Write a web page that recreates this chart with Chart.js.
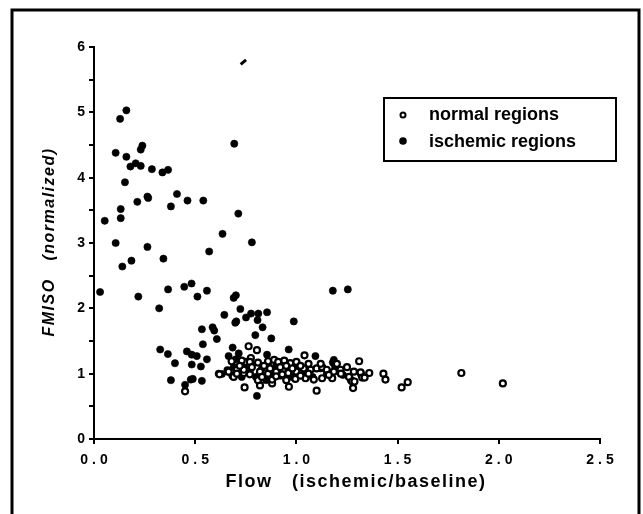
<!DOCTYPE html>
<html><head><meta charset="utf-8">
<script src="https://cdn.jsdelivr.net/npm/chart.js@4.4.0/dist/chart.umd.min.js"></script>
<style>html,body{margin:0;padding:0;background:#fff}#wrap{width:643px;height:514px;position:relative}</style>
</head><body><div id="wrap"><canvas id="c" width="643" height="514"></canvas></div>
<script>
// ---- data ----
const normalX = [0.45,0.62,0.66,0.69,0.706,0.744,0.764,0.805,0.775,0.75,0.74,0.82,0.88,0.963,1.04,1.10,1.28,1.27,1.31,1.32,1.36,1.43,1.44,1.52,1.55,1.815,2.02,
  0.68,0.73,0.77,0.81,0.86,0.89,0.91,0.94,0.97,1.0,
  0.665,0.706,0.74,0.77,0.82,0.86,0.90,0.93,0.96,1.0,
  0.81,0.88,0.95,0.995,
  1.036,1.07,1.10,1.127,1.15,1.185,1.218,1.25,1.284,1.317,1.045,1.086,1.127,1.177,1.26,1.276,1.325,1.337,1.287,
  0.84,0.87,0.92,0.95,0.98,1.02,1.06,1.12,1.20,0.78,0.72,0.83,0.90,1.02,1.06,1.16,1.22];
const normalY = [0.73,0.99,1.05,0.95,1.06,0.79,1.42,1.36,1.24,1.18,1.01,0.82,0.85,0.80,1.28,0.74,0.78,0.90,1.19,0.99,1.01,1.00,0.91,0.79,0.87,1.01,0.85,
  1.19,1.20,1.18,1.17,1.19,1.21,1.18,1.20,1.16,1.18,
  1.03,1.00,1.06,0.99,1.03,1.00,1.03,0.99,1.01,1.03,
  0.90,0.91,0.90,0.92,
  1.08,1.06,1.08,1.10,1.06,1.03,1.06,1.10,1.03,1.02,0.93,0.91,0.93,0.93,0.95,0.88,0.94,0.94,0.88,
  1.12,1.08,1.10,1.12,1.08,1.12,1.15,1.15,1.15,1.10,1.12,0.95,0.96,0.97,1.00,0.98,1.00];

const ischemicX = [0.03,0.053,0.107,0.107,0.129,0.16,0.16,0.132,0.132,0.14,0.153,0.185,0.18,0.206,0.231,0.239,0.231,0.214,0.219,0.264,0.268,0.264,0.286,0.343,0.338,0.366,0.366,0.322,0.38,0.41,
  0.462,0.446,0.482,0.511,0.558,0.54,0.569,0.635,0.713,0.693,0.78,0.69,0.701,0.644,0.723,0.751,0.776,0.812,0.855,0.808,0.698,0.703,0.833,0.797,0.876,0.987,1.18,1.254,
  0.533,0.586,0.594,0.607,0.538,0.327,0.365,0.40,0.38,0.459,0.483,0.508,0.483,0.528,0.558,0.478,0.488,0.533,0.45,0.616,0.632,0.665,0.685,0.715,0.665,0.70,0.855,0.962,1.094,1.185,1.18,0.805,0.683,
  0.72,0.75,0.78,0.80,0.83,0.86,0.88,0.90,0.92,0.94,0.96,0.98,1.0,1.03,1.06,1.08,1.12,1.15,1.19,1.21,1.23,0.85,0.95,0.73,0.77,0.69];
const ischemicY = [2.25,3.34,3.00,4.38,4.90,5.03,4.32,3.52,3.38,2.64,3.93,2.73,4.17,4.22,4.18,4.49,4.43,3.63,2.18,3.71,3.69,2.94,4.13,2.76,4.08,4.12,2.29,2.00,3.56,3.75,
  3.65,2.33,2.38,2.18,2.27,3.65,2.87,3.14,3.45,4.52,3.01,2.16,2.20,1.90,1.99,1.86,1.92,1.92,1.94,1.82,1.78,1.80,1.71,1.59,1.54,1.80,2.27,2.29,
  1.68,1.71,1.66,1.53,1.45,1.37,1.30,1.16,0.90,1.34,1.29,1.27,1.14,1.11,1.22,0.91,0.92,0.89,0.83,1.00,0.995,1.03,1.40,1.31,1.27,1.22,1.29,1.37,1.27,1.21,1.17,0.66,0.97,
  1.05,1.10,1.14,0.95,1.08,1.16,1.00,1.12,0.97,1.18,1.05,0.95,1.10,0.98,1.04,0.95,1.08,1.00,1.12,1.04,0.98,0.90,0.92,0.95,1.02,1.10];

const strayX = [0.738];
const strayY = [5.77];

const legendLabels = ['normal regions', 'ischemic regions'];
const xTitle = 'Flow   (ischemic/baseline)';
const yTitle = 'FMISO   (normalized)';

const toPts = (xs, ys) => xs.map((x, i) => ({x: x, y: ys[i]}));
const FONT = "'Liberation Sans', Arial, Helvetica, sans-serif";

const framePlugin = {
  id: 'frame',
  beforeDraw(chart) {
    const ctx = chart.ctx;
    ctx.save();
    ctx.fillStyle = '#fff';
    ctx.fillRect(0, 0, chart.width, chart.height);
    ctx.strokeStyle = '#000';
    ctx.lineWidth = 3;
    ctx.strokeRect(12, 10, 627, 520);
    ctx.restore();
    const xs = chart.scales.x, ys = chart.scales.y;
    if (!xs._wrapped) {
      const ol = xs.drawLabels;
      xs.drawLabels = function (a) { const c = this.ctx; c.save(); c.letterSpacing = '4px'; c.translate(2, 0); ol.call(this, a); c.restore(); };
      const ot = xs.drawTitle;
      xs.drawTitle = function () { const c = this.ctx; c.save(); c.letterSpacing = '1.5px'; c.translate(9, 0); ot.call(this); c.restore(); };
      const oy = ys.drawTitle;
      ys.drawTitle = function () { const c = this.ctx; c.save(); c.letterSpacing = '1.5px'; c.translate(0, -1); oy.call(this); c.restore(); };
      xs._wrapped = true;
    }
  },
  afterDraw(chart) {
    const ctx = chart.ctx;
    ctx.save();
    ctx.strokeStyle = '#000';
    ctx.lineWidth = 2;
    ctx.strokeRect(384, 98, 232, 63);
    ctx.beginPath(); ctx.arc(403, 115, 2.5, 0, Math.PI * 2);
    ctx.fillStyle = '#fff'; ctx.fill(); ctx.lineWidth = 2; ctx.stroke();
    ctx.beginPath(); ctx.arc(403, 141, 3.8, 0, Math.PI * 2);
    ctx.fillStyle = '#000'; ctx.fill();
    ctx.fillStyle = '#000';
    ctx.font = 'bold 18px ' + FONT;
    ctx.textBaseline = 'middle';
    ctx.textAlign = 'left';
    ctx.fillText(legendLabels[0], 429, 115);
    ctx.fillText(legendLabels[1], 429, 142);
    ctx.restore();
  }
};

new Chart(document.getElementById('c'), {
  type: 'scatter',
  data: {
    datasets: [
      { label: legendLabels[0], data: toPts(normalX, normalY), pointRadius: 3, pointHoverRadius: 3, borderWidth: 2.2,
        pointBackgroundColor: '#fff', pointBorderColor: '#000', order: 0 },
      { label: legendLabels[1], data: toPts(ischemicX, ischemicY), pointRadius: 3.6, pointHoverRadius: 3.6, borderWidth: 0.6,
        pointBackgroundColor: '#000', pointBorderColor: '#000', order: 1 },
      { label: '', data: toPts(strayX, strayY), pointStyle: 'line', rotation: -40, pointRadius: 3.5, borderWidth: 3,
        pointBorderColor: '#000', order: 2 }
    ]
  },
  options: {
    responsive: false,
    animation: false,
    devicePixelRatio: 1,
    layout: { padding: { left: 0, top: 47, right: 43, bottom: 0 } },
    plugins: { legend: { display: false }, tooltip: { enabled: false } },
    scales: {
      x: {
        type: 'linear', min: 0, max: 2.5,
        afterFit(s) { s.height = 75; },
        ticks: { stepSize: 0.5, padding: 8, color: '#000', font: { family: FONT, size: 14, weight: 'bold' },
                 callback: v => v.toFixed(1) },
        grid: { display: true, drawOnChartArea: false, drawTicks: true, tickLength: 5, color: '#000', lineWidth: 2 },
        border: { display: true, color: '#000', width: 2 },
        title: { display: true, text: xTitle, color: '#000', font: { family: FONT, size: 18, weight: 'bold' }, padding: { top: 0, bottom: 21 } }
      },
      y: {
        type: 'linear', min: 0, max: 6,
        afterFit(s) { s.width = 94; },
        ticks: { stepSize: 0.5, padding: 4, color: '#000', font: { family: FONT, size: 14, weight: 'bold' },
                 callback: v => (Number.isInteger(v) ? String(v) : '') },
        grid: { display: true, drawOnChartArea: false, drawTicks: true, tickLength: 5, color: '#000', lineWidth: 2 },
        border: { display: true, color: '#000', width: 2 },
        title: { display: true, text: yTitle, color: '#000', font: { family: FONT, size: 16, weight: 'bold', style: 'italic' }, padding: { top: 40, bottom: 0 } }
      }
    }
  },
  plugins: [framePlugin]
});
</script>
</body></html>
